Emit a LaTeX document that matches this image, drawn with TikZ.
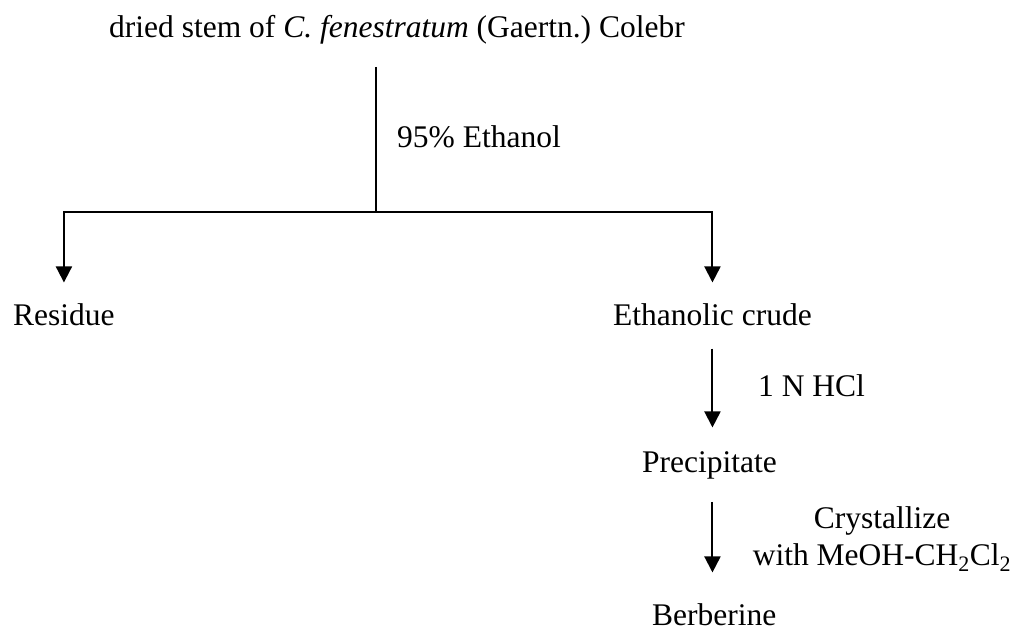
\documentclass[tikz,border=0pt]{standalone}
\usepackage{fontspec}
\setmainfont{Liberation Serif}
\usetikzlibrary{arrows.meta}
\frenchspacing
\begin{document}
\begin{tikzpicture}[x=1pt,y=-1pt,
  lbl/.style={inner sep=0pt,anchor=base west,font=\fontsize{31.5}{37.8}\selectfont},
  lblc/.style={inner sep=0pt,anchor=base,font=\fontsize{31.5}{37.8}\selectfont},
  conn/.style={line width=2pt,draw=black},
  arr/.style={conn,-{Triangle[width=16pt,length=16pt]}}]
\useasboundingbox (0,0) rectangle (1015,630);
\node[lbl] (title) at (109,37) {dried stem of \textit{C. fenestratum} (Gaertn.)\ Colebr};
\node[lbl] (eth) at (397,147) {95\% Ethanol};
\node[lbl] (residue) at (13,325) {Residue};
\node[lbl] (crude) at (613,325) {Ethanolic crude};
\node[lbl] (hcl) at (758,396) {1 N HCl};
\node[lbl] (precip) at (642,472) {Precipitate};
\node[lblc] (cry1) at (882,528) {Crystallize};
\node[lblc] (cry2) at (882,565) {with MeOH-CH\textsubscript{2}Cl\textsubscript{2}};
\node[lbl] (berb) at (652,625) {Berberine};
\coordinate (split) at (376,212);
\draw[conn,shorten <=23pt] (split |- title.south) -- (split);
\draw[arr,shorten >=20.5pt] (split) -| (residue.north);
\draw[arr,shorten >=20.5pt] (split) -| (crude.north);
\draw[arr,shorten <=23pt,shorten >=23.5pt] (crude.south) -- (crude.south |- precip.north);
\draw[arr,shorten <=23pt,shorten >=30.5pt] (crude.south |- precip.south) -- (crude.south |- berb.north);
\end{tikzpicture}
\end{document}
